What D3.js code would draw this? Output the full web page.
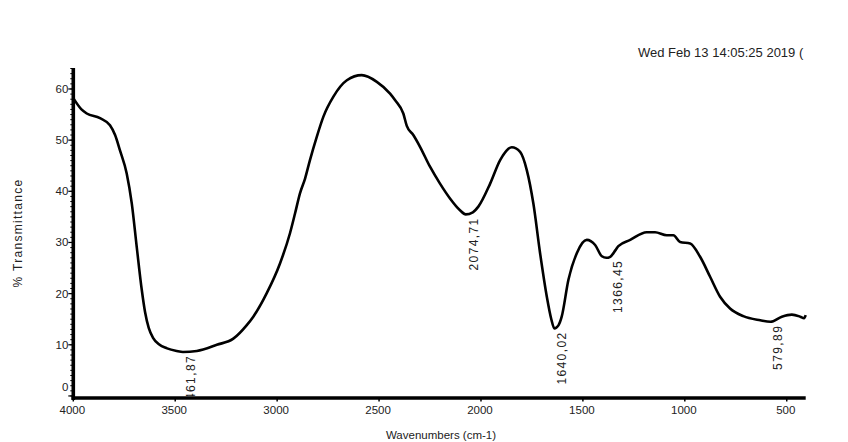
<!DOCTYPE html>
<html>
<head>
<meta charset="utf-8">
<script src="https://cdn.jsdelivr.net/npm/d3@7"></script>
<style>
  html, body { margin: 0; padding: 0; background: #fff; }
  text { font-family: "Liberation Sans", Arial, sans-serif; fill: #222; }
</style>
</head>
<body>
<div id="chart"></div>
<script>
// --- data ---
const wavenumbers = [4000, 3960, 3934, 3869, 3820, 3795, 3771, 3738, 3713, 3689, 3664, 3648, 3630, 3608, 3580, 3540, 3493, 3462,
  3394, 3296, 3215, 3150, 3117, 3051, 2986, 2937, 2912, 2888, 2863, 2839, 2806, 2773, 2724, 2658, 2585,
  2511, 2446, 2421, 2381, 2364, 2332, 2299, 2250, 2201, 2152, 2103, 2075, 2040, 2013, 1955, 1906, 1849,
  1808, 1775, 1743, 1710, 1677, 1655, 1640, 1620, 1604, 1571, 1530, 1481, 1440, 1407, 1385, 1366, 1340,
  1326, 1268, 1187, 1146, 1089, 1056, 1023, 974, 925, 876, 827, 778, 713, 630, 580, 524, 475, 434, 415, 407];
const transmittance = [58.2, 56.0, 55.2, 54.3, 52.9, 51.0, 48.0, 43.5, 37.6, 29.2, 20.7, 16.4, 13.3, 11.3, 10.1, 9.3, 8.8, 8.6,
  8.8, 10.0, 11.2, 13.8, 15.5, 20.1, 25.9, 31.8, 35.7, 39.6, 42.5, 46.1, 50.6, 54.6, 58.5, 61.7, 62.7,
  61.4, 59.1, 57.8, 55.2, 52.8, 51.0, 48.7, 44.8, 41.5, 38.6, 36.3, 35.5, 35.9, 37.0, 41.5, 46.1, 48.6,
  47.7, 44.1, 37.6, 27.9, 19.4, 15.0, 13.2, 13.8, 15.5, 22.7, 27.9, 30.5, 29.5, 27.3, 27.0, 27.2, 28.5,
  29.3, 30.5, 32.0, 32.0, 31.4, 31.4, 30.1, 29.8, 27.2, 23.3, 19.4, 17.1, 15.6, 14.8, 14.5, 15.5, 15.9, 15.5, 15.2, 15.8];

const peakWavenumbers = [3461.87, 2074.71, 1640.02, 1366.45, 579.89];
const peakValues      = [8.6, 35.5, 13.2, 27.2, 14.5];

const xTicks = [4000, 3500, 3000, 2500, 2000, 1500, 1000, 500];
const yTicks = [0, 10, 20, 30, 40, 50, 60];

const stamp = "Wed Feb 13 14:05:25 2019 (";

// --- sizing ---
const W = 848, H = 442;
const plot = { left: 73.3, right: 805.7, top: 68, bottom: 398 };

const svg = d3.select("#chart").append("svg")
  .attr("width", W).attr("height", H);

const x = d3.scaleLinear().domain([4000, 407]).range([plot.left, plot.right]);
const y = d3.scaleLinear().domain([-0.4, 64.1]).range([plot.bottom, plot.top]);

// clip for the spectrum and its peak labels
svg.append("defs").append("clipPath").attr("id", "plotclip")
  .append("rect")
  .attr("x", plot.left).attr("y", plot.top - 10)
  .attr("width", plot.right - plot.left + 2)
  .attr("height", plot.bottom - plot.top + 8);

// --- spectrum ---
const pts = wavenumbers.map((w, i) => ({ w, t: transmittance[i] }));
const line = d3.line()
  .x(d => x(d.w))
  .y(d => y(d.t))
  .curve(d3.curveMonotoneX);

const g = svg.append("g").attr("clip-path", "url(#plotclip)");
g.append("path")
  .datum(pts)
  .attr("fill", "none")
  .attr("stroke", "#000")
  .attr("stroke-width", 2.6)
  .attr("stroke-linejoin", "round")
  .attr("d", line);

// peak labels, vertical, reading upward
g.selectAll(".peak")
  .data(peakWavenumbers)
  .enter().append("text")
  .attr("class", "peak")
  .attr("transform", (d, i) => `translate(${x(d) + 12},${y(peakValues[i]) + 3}) rotate(-90)`)
  .attr("text-anchor", "end")
  .style("font-size", "12px")
  .style("letter-spacing", "1.4px")
  .text(d => d3.format(".2f")(d).replace(".", ","));

// --- axes ---
const yAxis = svg.append("g");
// minor ticks every unit
yAxis.selectAll(".minor")
  .data(d3.range(0, 65, 1))
  .enter().append("line")
  .attr("x1", plot.left - 3).attr("x2", plot.left)
  .attr("y1", d => y(d)).attr("y2", d => y(d))
  .attr("stroke", "#000").attr("stroke-width", 1);
yAxis.selectAll(".major")
  .data(yTicks)
  .enter().append("line")
  .attr("x1", plot.left - 5).attr("x2", plot.left)
  .attr("y1", d => y(d)).attr("y2", d => y(d))
  .attr("stroke", "#000").attr("stroke-width", 1.2);
yAxis.selectAll(".ylab")
  .data(yTicks)
  .enter().append("text")
  .attr("x", plot.left - 5)
  .attr("y", d => y(d) + (d === 0 ? -5 : 4))
  .attr("text-anchor", "end")
  .style("font-size", "11.5px")
  .text(d => d);
yAxis.append("line")
  .attr("x1", plot.left).attr("x2", plot.left)
  .attr("y1", plot.top).attr("y2", plot.bottom + 2)
  .attr("stroke", "#000").attr("stroke-width", 3.6);

const xAxis = svg.append("g");
xAxis.append("line")
  .attr("x1", plot.left - 1.8).attr("x2", plot.right)
  .attr("y1", plot.bottom).attr("y2", plot.bottom)
  .attr("stroke", "#000").attr("stroke-width", 3.6);
xAxis.selectAll(".xt")
  .data(xTicks)
  .enter().append("line")
  .attr("x1", d => x(d)).attr("x2", d => x(d))
  .attr("y1", plot.bottom).attr("y2", plot.bottom + 3.5)
  .attr("stroke", "#000").attr("stroke-width", 1.5);
xAxis.selectAll(".xlab")
  .data(xTicks)
  .enter().append("text")
  .attr("x", d => x(d) - 1)
  .attr("y", plot.bottom + 16)
  .attr("text-anchor", "middle")
  .style("font-size", "11.5px")
  .text(d => d);

// axis titles
svg.append("text")
  .attr("x", 441)
  .attr("y", 439)
  .attr("text-anchor", "middle")
  .style("font-size", "11.5px")
  .text("Wavenumbers (cm-1)");

svg.append("text")
  .attr("transform", `translate(22,233) rotate(-90)`)
  .attr("text-anchor", "middle")
  .style("font-size", "12px")
  .style("letter-spacing", "1.3px")
  .text("% Transmittance");

// time stamp top right
svg.append("text")
  .attr("x", 638)
  .attr("y", 56.5)
  .style("font-size", "13px")
  .text(stamp);
</script>
</body>
</html>
